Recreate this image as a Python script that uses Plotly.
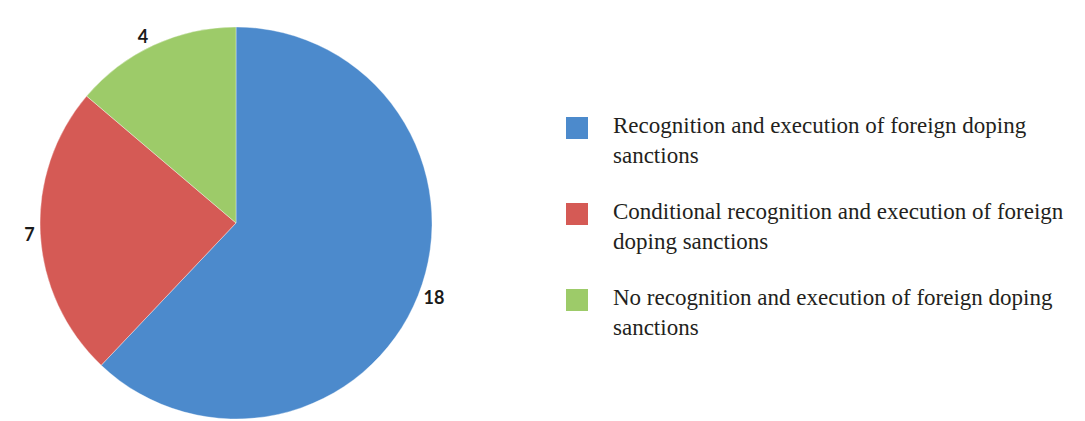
import plotly.graph_objects as go

labels = [
    "Recognition and execution of foreign doping<br>sanctions",
    "Conditional recognition and execution of foreign<br>doping sanctions",
    "No recognition and execution of foreign doping<br>sanctions",
]
values = [18, 7, 4]
colors = ["#4C8ACC", "#D55A55", "#9DCB69"]

W, H = 1085, 421
# pie centre/radius in figure pixels (page adds an 8px body margin)
cx, cy, r = 228, 215, 196

fig = go.Figure(go.Pie(
    labels=labels,
    values=values,
    sort=False,
    direction="clockwise",
    rotation=0,
    marker=dict(colors=colors, line=dict(color="rgba(255,255,255,0.35)", width=1)),
    textposition="outside",
    texttemplate="%{value}",
    textfont=dict(family="Lato", size=18, color="#1a1a1a", weight="bold"),
    hoverinfo="label+value",
    domain=dict(x=[(cx - r) / W, (cx + r) / W], y=[(H - cy - r) / H, (H - cy + r) / H]),
    automargin=False,
    showlegend=False,
))

# custom legend (larger squares, serif text) built from the same lists
sq_x0, sq_size = 558, 22
txt_x = 603
top0, step = 109, 86
for i, (lab, col) in enumerate(zip(labels, colors)):
    top = top0 + i * step
    fig.add_shape(
        type="rect", xref="paper", yref="paper",
        x0=sq_x0 / W, x1=(sq_x0 + sq_size) / W,
        y0=1 - (top + sq_size) / H, y1=1 - top / H,
        fillcolor=col, line=dict(width=0),
    )
    fig.add_annotation(
        xref="paper", yref="paper",
        x=txt_x / W, y=1 - (top - 6) / H,
        xanchor="left", yanchor="top", align="left",
        text=lab, showarrow=False,
        font=dict(family="Liberation Serif", size=23, color="#231F20"),
    )

fig.update_layout(
    width=W, height=H,
    margin=dict(l=0, r=0, t=0, b=0),
    paper_bgcolor="white",
    plot_bgcolor="white",
    showlegend=False,
)

fig.write_html("out.html")
